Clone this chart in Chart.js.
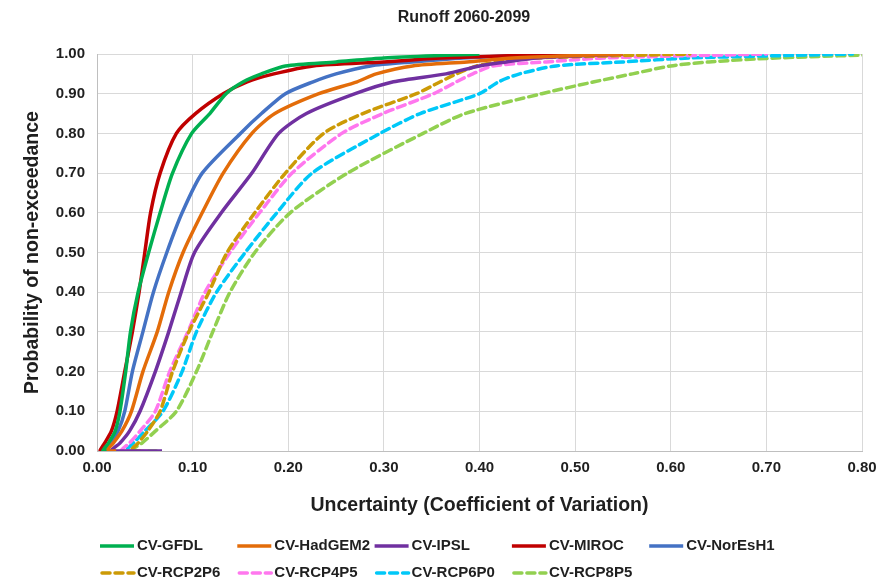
<!DOCTYPE html>
<html>
<head>
<meta charset="utf-8">
<script src="https://cdn.jsdelivr.net/npm/chart.js@4.4.1/dist/chart.umd.min.js"></script>
<style>
  html, body { margin: 0; padding: 0; background: #fff; }
  #wrap { width: 894px; height: 582px; position: relative; }
</style>
</head>
<body>
<div id="wrap"><canvas id="c" width="894" height="582"></canvas></div>
<script>
// Probability of non-exceedance levels (shared by all series)
const probLevels = [0, 0, 0.02, 0.05, 0.1, 0.2, 0.3, 0.4, 0.5, 0.6, 0.7, 0.8, 0.85, 0.9, 0.93, 0.95, 0.97, 0.98, 0.99, 1.0];

// Coefficient of variation at each probability level, per series
const cvGFDL    = [0.010, 0.006, 0.012, 0.019, 0.024, 0.030, 0.035, 0.043, 0.054, 0.066, 0.079, 0.099, 0.118, 0.135, 0.153, 0.172, 0.197, 0.25, 0.30, 0.40];
const cvHadGEM2 = [0.020, 0.010, 0.017, 0.026, 0.036, 0.048, 0.063, 0.075, 0.090, 0.110, 0.132, 0.162, 0.186, 0.232, 0.272, 0.292, 0.33, 0.387, 0.435, 0.55];
const cvIPSL    = [0.068, 0.015, 0.024, 0.034, 0.045, 0.061, 0.075, 0.088, 0.102, 0.130, 0.162, 0.190, 0.219, 0.270, 0.310, 0.365, 0.400, 0.428, 0.46, 0.55];
const cvMIROC   = [0.005, 0.003, 0.008, 0.015, 0.021, 0.029, 0.037, 0.044, 0.050, 0.056, 0.066, 0.083, 0.103, 0.132, 0.157, 0.185, 0.226, 0.30, 0.36, 0.50];
const cvNorEsH1 = [0.015, 0.008, 0.014, 0.022, 0.029, 0.037, 0.048, 0.059, 0.073, 0.089, 0.110, 0.150, 0.172, 0.197, 0.226, 0.250, 0.286, 0.33, 0.383, 0.47];
const cvRCP2P6  = [0.045, 0.035, 0.043, 0.053, 0.066, 0.079, 0.096, 0.117, 0.136, 0.165, 0.197, 0.237, 0.278, 0.334, 0.359, 0.376, 0.397, 0.42, 0.46, 0.62];
const cvRCP4P5  = [0.052, 0.025, 0.034, 0.045, 0.061, 0.076, 0.095, 0.113, 0.139, 0.170, 0.204, 0.256, 0.299, 0.352, 0.376, 0.393, 0.414, 0.47, 0.53, 0.70];
const cvRCP6P0  = [0.040, 0.030, 0.038, 0.050, 0.069, 0.089, 0.104, 0.125, 0.155, 0.188, 0.225, 0.296, 0.338, 0.400, 0.420, 0.442, 0.480, 0.55, 0.62, 0.79];
const cvRCP8P5  = [0.062, 0.035, 0.047, 0.061, 0.083, 0.104, 0.121, 0.139, 0.165, 0.202, 0.262, 0.341, 0.385, 0.465, 0.520, 0.560, 0.600, 0.64, 0.71, 0.84];

const seriesNames = ['CV-GFDL', 'CV-HadGEM2', 'CV-IPSL', 'CV-MIROC', 'CV-NorEsH1', 'CV-RCP2P6', 'CV-RCP4P5', 'CV-RCP6P0', 'CV-RCP8P5'];
const seriesValues = [cvGFDL, cvHadGEM2, cvIPSL, cvMIROC, cvNorEsH1, cvRCP2P6, cvRCP4P5, cvRCP6P0, cvRCP8P5];
const seriesColors = ['#00B050', '#E36C09', '#7030A0', '#C00000', '#4472C4', '#CC9A06', '#FF77EE', '#00C8F8', '#92D050'];
const seriesDashed = [false, false, false, false, false, true, true, true, true];

const xTicks = [0, 0.1, 0.2, 0.3, 0.4, 0.5, 0.6, 0.7, 0.8];
const yTicks = [0, 0.1, 0.2, 0.3, 0.4, 0.5, 0.6, 0.7, 0.8, 0.9, 1.0];
const chartTitle = 'Runoff 2060-2099';

const FONT = '"Liberation Sans", Arial, sans-serif';
const TEXT = '#1f1f1f';

const datasets = seriesNames.map((name, i) => ({
  label: name,
  data: probLevels.map((p, k) => ({ x: seriesValues[i][k], y: p })),
  borderColor: seriesColors[i],
  backgroundColor: seriesColors[i],
  borderWidth: 3.5,
  borderDash: seriesDashed[i] ? [8, 5] : [],
  borderCapStyle: seriesDashed[i] ? 'round' : 'butt',
  borderJoinStyle: 'round',
  showLine: true,
  pointRadius: 0,
  tension: 0.25,
  fill: false,
  order: seriesDashed[i] ? 2 : 1
}));

// Title (centred like the reference) and a two-row grid legend
const decor = {
  id: 'decor',
  afterDraw(chart) {
    const ctx = chart.ctx;
    ctx.save();
    ctx.fillStyle = TEXT;
    ctx.font = 'bold 16px ' + FONT;
    ctx.textAlign = 'center';
    ctx.textBaseline = 'middle';
    ctx.fillText(chartTitle, 464, 18);

    chart.data.datasets.forEach((ds, i) => {
      const col = i < 5 ? i : i - 5;
      const row = i < 5 ? 0 : 1;
      const x0 = 100 + col * 137.3;
      const y = row === 0 ? 546 : 573;
      ctx.beginPath();
      ctx.strokeStyle = ds.borderColor;
      ctx.lineWidth = 3.5;
      ctx.lineCap = ds.borderCapStyle;
      ctx.setLineDash(ds.borderDash);
      ctx.moveTo(x0 + (ds.borderDash.length ? 2 : 0), y);
      ctx.lineTo(x0 + 34, y);
      ctx.stroke();
      ctx.setLineDash([]);
      ctx.fillStyle = TEXT;
      ctx.font = 'bold 15px ' + FONT;
      ctx.textBaseline = 'middle';
      ctx.textAlign = 'left';
      ctx.fillText(ds.label, x0 + 37, y);
    });
    ctx.restore();
  }
};

new Chart(document.getElementById('c'), {
  type: 'scatter',
  data: { datasets },
  plugins: [decor],
  options: {
    responsive: false,
    animation: false,
    layout: { padding: { left: 17, right: 32, top: 54, bottom: 61 } },
    plugins: {
      legend: { display: false },
      tooltip: { enabled: false },
      title: { display: false }
    },
    scales: {
      x: {
        type: 'linear',
        min: 0, max: 0.8,
        afterBuildTicks(scale) { scale.ticks = xTicks.map(v => ({ value: v })); },
        afterFit(scale) { scale.height = 70; },
        ticks: {
          color: TEXT,
          font: { family: FONT, size: 15, weight: 'bold' },
          padding: 8,
          maxRotation: 0,
          callback: v => Number(v).toFixed(2)
        },
        grid: { color: '#D9D9D9', lineWidth: 1, drawTicks: false },
        border: { color: '#BFBFBF', width: 1 },
        title: {
          display: true,
          text: 'Uncertainty (Coefficient of Variation)',
          color: TEXT,
          font: { family: FONT, size: 19.5, weight: 'bold' },
          padding: { top: 8 }
        }
      },
      y: {
        type: 'linear',
        min: 0, max: 1,
        afterBuildTicks(scale) { scale.ticks = yTicks.map(v => ({ value: v })); },
        afterFit(scale) { scale.width = 80; },
        ticks: {
          color: TEXT,
          font: { family: FONT, size: 15, weight: 'bold' },
          padding: 12,
          callback: v => Number(v).toFixed(2)
        },
        grid: { color: '#D9D9D9', lineWidth: 1, drawTicks: false },
        border: { color: '#BFBFBF', width: 1 },
        title: {
          display: true,
          text: 'Probability of non-exceedance',
          color: TEXT,
          font: { family: FONT, size: 19.5, weight: 'bold' },
          padding: { bottom: 4 }
        }
      }
    }
  }
});
</script>
</body>
</html>
